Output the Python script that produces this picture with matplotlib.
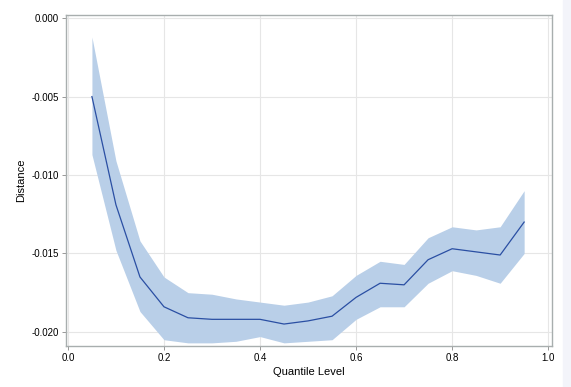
"""Quantile level vs distance with confidence band"""

import matplotlib.pyplot as plt
import matplotlib.patches as mpatches

plt.rcParams["font.family"] = ["Liberation Sans", "DejaVu Sans"]

quantiles = [0.05, 0.10, 0.15, 0.20, 0.25, 0.30, 0.35, 0.40, 0.45, 0.50,
             0.55, 0.60, 0.65, 0.70, 0.75, 0.80, 0.85, 0.90, 0.95]
distance = [-0.0050, -0.0119, -0.0165, -0.0184, -0.0191, -0.0192, -0.0192,
            -0.0192, -0.0195, -0.0193, -0.0190, -0.0178, -0.0169, -0.0170,
            -0.0154, -0.0147, -0.0149, -0.0151, -0.0130]
upper = [-0.0012, -0.0091, -0.0142, -0.0165, -0.0175, -0.0176, -0.0179,
         -0.0181, -0.0183, -0.0181, -0.0177, -0.0164, -0.0155, -0.0157,
         -0.0140, -0.0133, -0.0135, -0.0133, -0.0110]
lower = [-0.0087, -0.0148, -0.0187, -0.0205, -0.0207, -0.0207, -0.0206,
         -0.0203, -0.0207, -0.0206, -0.0205, -0.0192, -0.0184, -0.0184,
         -0.0169, -0.0161, -0.0164, -0.0169, -0.0150]

x_ticks = [0.0, 0.2, 0.4, 0.6, 0.8, 1.0]
y_ticks = [0.000, -0.005, -0.010, -0.015, -0.020]

fig = plt.figure(figsize=(5.71, 3.87), dpi=100)
# light strip on the right edge
fig.patches.append(mpatches.Rectangle((563 / 571, 0), 1, 1, transform=fig.transFigure,
                                      color="#f3f4fa", zorder=0))
ax = fig.add_axes([66 / 571, 41 / 387, 486 / 571, 331 / 387])

ax.fill_between(quantiles, lower, upper, color="#b9cfe8", linewidth=0, zorder=2)
ax.plot(quantiles, distance, color="#2a4fa3", linewidth=0.9, zorder=3)

ax.set_xlim(-0.004, 1.008)
ax.set_ylim(-0.0209, 0.0002)
ax.set_xticks(x_ticks)
ax.set_yticks(y_ticks)
ax.set_xticklabels([f"{t:.1f}" for t in x_ticks])
ax.set_yticklabels([f"{t:.3f}" for t in y_ticks])
ax.tick_params(labelsize=7, length=3, width=0.6, color="#888888", pad=2)
ax.grid(True, color="#e6e6e6", linewidth=0.8, zorder=1)
ax.set_axisbelow(True)
for s in ax.spines.values():
    s.set_color("#a8aeae")
    s.set_linewidth(1.0)

ax.set_xlabel("Quantile Level", fontsize=8, labelpad=3)
ax.set_ylabel("Distance", fontsize=8, labelpad=4)

fig.savefig("out.png", dpi=100)
